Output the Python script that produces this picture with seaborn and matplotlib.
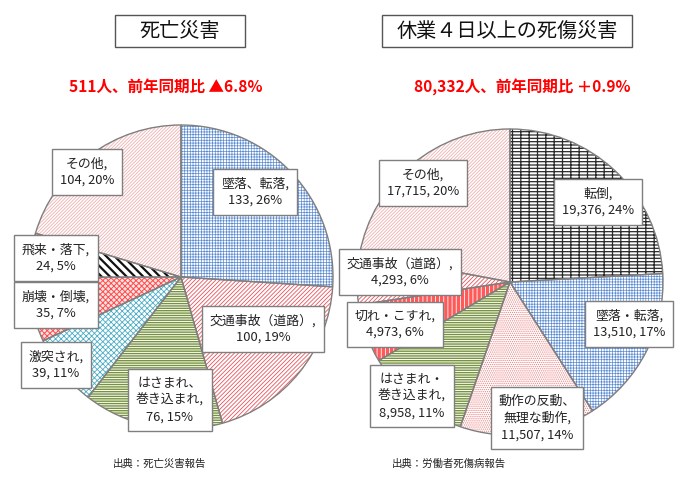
import matplotlib
matplotlib.use("Agg")
import matplotlib.pyplot as plt
from matplotlib.patches import Rectangle
import seaborn as sns

# Data: fatal accidents (left) and lost-time injuries of 4+ days (right)
death_names = ["墜落、転落", "交通事故（道路）", "はさまれ、\n巻き込まれ", "激突され",
               "崩壊・倒壊", "飛来・落下", "その他"]
death_values = [133, 100, 76, 39, 35, 24, 104]
death_pcts = [26, 19, 15, 11, 7, 5, 20]

injury_names = ["転倒", "墜落・転落", "動作の反動、\n無理な動作", "はさまれ・\n巻き込まれ",
                "切れ・こすれ", "交通事故（道路）", "その他"]
injury_values = [19376, 13510, 11507, 8958, 4973, 4293, 17715]
injury_pcts = [24, 17, 14, 11, 6, 6, 20]

titles = ["死亡災害", "休業４日以上の死傷災害"]
subtitles = ["511人、前年同期比 ▲6.8%", "80,332人、前年同期比 ＋0.9%"]
sources = ["出典：死亡災害報告", "出典：労働者死傷病報告"]

sns.set_theme(style="white")
plt.rcParams["font.family"] = ["Noto Sans CJK JP", "DejaVu Sans"]
plt.rcParams["hatch.linewidth"] = 0.6

W, H = 689, 478
fig = plt.figure(figsize=(W / 100, H / 100), dpi=100)
ax = fig.add_axes([0, 0, 1, 1])


def Y(y):
    return H - y


# styles: (face, hatch colour, hatch, hatch linewidth)
death_styles = [
    ("white", "#5b8bd0", "++++++", 0.5),
    ("white", "#e8535b", "////////", 0.6),
    ("white", "#76923c", "-------", 1.0),
    ("white", "#4bacc6", "xxxxxx", 0.6),
    ("#fde3e3", "#ff4b4b", "xxxxxx", 0.7),
    ("white", "#111111", "\\\\\\\\", 1.6),
    ("white", "#f0b0b0", "//////////", 0.6),
]
injury_styles = [
    ("white", "#2a2a2a", "-----||", 0.9),
    ("white", "#5b8bd0", "++++++", 0.5),
    ("white", "#ee8080", "........", 0.6),
    ("white", "#76923c", "-------", 1.0),
    ("#ff5a5a", "white", "||||", 0.6),
    ("white", "#e8535b", "////////", 0.6),
    ("white", "#f0b0b0", "//////////", 0.6),
]


def draw_pie(values, styles, center, radius):
    wedges, _ = ax.pie(values, startangle=90, counterclock=False,
                       center=center, radius=radius,
                       colors=[s[0] for s in styles])
    for w, (face, hc, hatch, hlw) in zip(wedges, styles):
        w.set_hatch(hatch)
        w.set_edgecolor(hc)
        w.set_linewidth(0)
        if hasattr(w, "set_hatch_linewidth"):
            w.set_hatch_linewidth(hlw)
    ax.pie(values, startangle=90, counterclock=False, center=center, radius=radius,
           wedgeprops=dict(fill=False, edgecolor="#7f7f7f", linewidth=1.0))


def draw_labels(names, values, pcts, positions):
    for name, v, p, (x, y) in zip(names, values, pcts, positions):
        ax.text(x, Y(y), f"{name},\n{v:,}, {p}%", ha="center", va="center",
                fontsize=9.3, linespacing=1.35, color="#222222",
                bbox=dict(boxstyle="square,pad=0.6", facecolor="white",
                          edgecolor="#7f7f7f", linewidth=1.0))


draw_pie(death_values, death_styles, (181, Y(277)), 152)
draw_pie(injury_values, injury_styles, (510, Y(282)), 153)

death_pos = [(255, 192), (263, 329), (170, 400), (56, 365), (56, 305), (56, 258), (87, 172)]
injury_pos = [(598, 202), (629, 324), (537, 418), (412, 396), (395, 324), (400, 272), (423, 183)]
draw_labels(death_names, death_values, death_pcts, death_pos)
draw_labels(injury_names, injury_values, injury_pcts, injury_pos)

# titles in boxes
for (x0, x1), t in zip([(115, 245), (382, 632)], titles):
    ax.add_patch(Rectangle((x0, Y(47)), x1 - x0, 32, facecolor="white",
                           edgecolor="#555555", linewidth=1.0))
    ax.text((x0 + x1) / 2, Y(31), t, ha="center", va="center", fontsize=14.5, color="#111111")

for x, t in zip([166, 522], subtitles):
    ax.text(x, Y(87), t, ha="center", va="center", fontsize=11.2,
            fontweight="bold", color="#ff0000")

for x, t in zip([113, 392], sources):
    ax.text(x, Y(464), t, ha="left", va="center", fontsize=7.5, color="#222222")

ax.set_xlim(0, W)
ax.set_ylim(0, H)
ax.axis("off")

fig.savefig("out.png", dpi=100)
